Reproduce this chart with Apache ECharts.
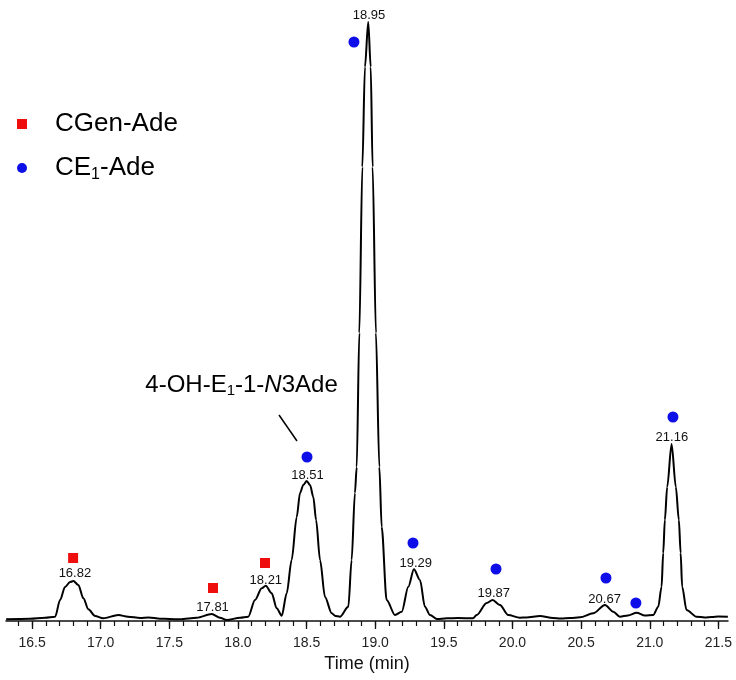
<!DOCTYPE html>
<html>
<head>
<meta charset="utf-8">
<script src="https://cdn.jsdelivr.net/npm/echarts@6/dist/echarts.min.js"></script>
<style>
  html, body { margin: 0; padding: 0; background: #fff; }
  #chart-container { width: 736px; height: 680px; }
</style>
</head>
<body>
<div id="chart-container"></div>
<script>
// chromatogram trace, time (min) and signal (arbitrary units, 0 = axis line)
const traceTime = [16.311, 16.485, 16.595, 16.668, 16.704, 16.740, 16.777, 16.801, 16.837, 16.874,
  16.910, 16.959, 17.017, 17.129, 17.199, 17.287, 17.35, 17.432, 17.5, 17.578, 17.700, 17.809, 17.869,
  17.918, 18.015, 18.075, 18.124, 18.173, 18.202, 18.246, 18.282, 18.319, 18.355, 18.391, 18.428,
  18.452, 18.476, 18.501, 18.525, 18.549, 18.569, 18.598, 18.634, 18.683, 18.71, 18.743, 18.804,
  18.828, 18.852, 18.865, 18.884, 18.906, 18.925, 18.949, 18.967, 18.981, 19.005, 19.030, 19.047,
  19.083, 19.144, 19.193, 19.241, 19.282, 19.326, 19.362, 19.399, 19.45, 19.523, 19.6, 19.712, 19.739,
  19.812, 19.855, 19.908, 19.969, 20.054, 20.1, 20.200, 20.295, 20.35, 20.42, 20.492, 20.588, 20.674,
  20.734, 20.783, 20.841, 20.904, 20.965, 21.025, 21.062, 21.086, 21.098, 21.110, 21.127, 21.159,
  21.190, 21.212, 21.225, 21.236, 21.268, 21.341, 21.4, 21.453, 21.5, 21.569];
const traceSignal = [1.7, 2.3, 3.3, 4.3, 21, 34, 39, 40, 36, 22.7,
  11.7, 5, 2.7, 6, 4.3, 3, 3.5, 2.3, 2, 1.7, 3.3, 7, 3.3,
  1, 3.3, 4.3, 21, 32.7, 35.3, 27.7, 12.7, 5.3, 27.7, 61, 104,
  128, 136, 140, 136, 124, 101, 61, 24, 7.7, 5, 4.3, 14.3,
  61, 128, 154, 288, 454, 554, 599, 554, 454, 288, 154, 94,
  21, 6, 9.3, 34.3, 51.7, 41, 14.3, 6, 2, 2.7, 3, 2.7, 6,
  18, 21, 16, 6, 3.3, 3.5, 5, 3, 2.5, 3, 3.7, 7.7, 16,
  9.3, 4.3, 5.5, 8.3, 5.5, 6, 14.3, 34.3, 68, 101, 134, 177,
  134, 101, 68, 34.3, 11, 4.3, 3.5, 4, 4.5, 4.3];

// peak retention time labels
const peakText = ["16.82", "17.81", "18.21", "18.51", "18.95", "19.29", "19.87", "20.67", "21.16"];
const peakLabelTime = [16.812, 17.815, 18.203, 18.507, 18.955, 19.295, 19.863, 20.671, 21.161];
const peakLabelY = [48, 14, 41, 146, 606, 57.7, 27.7, 22, 184];

// CGen-Ade markers (red squares)
const cgenTime = [16.799, 17.818, 18.197];
const cgenY = [63, 33, 58];

// CE1-Ade markers (blue circles)
const ce1Time = [18.845, 18.503, 19.275, 19.880, 20.681, 20.899, 21.169];
const ce1Y = [579, 164, 78, 52, 43, 18, 204];

// annotation text and leader line
const noteText = "4-OH-E{s|1}-1-{i|N}3Ade";
const notePos = [18.026, 236];
const noteLine = [[18.299, 206], [18.430, 180]];

// axis ticks
const majorTicks = [16.5, 17.0, 17.5, 18.0, 18.5, 19.0, 19.5, 20.0, 20.5, 21.0, 21.5];
const minorTicks = [];
for (let i = 164; i <= 215; i++) minorTicks.push(i / 10);

(function () {
  var dom = document.getElementById("chart-container");
  var myChart = echarts.init(dom, null, { renderer: "canvas" });

  const trace = traceTime.map((t, i) => [t, traceSignal[i]]);
  const labels = peakLabelTime.map((t, i) => [t, peakLabelY[i], peakText[i]]);
  const cgen = cgenTime.map((t, i) => [t, cgenY[i]]);
  const ce1 = ce1Time.map((t, i) => [t, ce1Y[i]]);

  const font = "'Liberation Sans', Arial, sans-serif";

  var option = {
    animation: false,
    textStyle: { fontFamily: font },
    grid: { left: 6, right: 8, top: 0, bottom: 59 },
    legend: {
      orient: "vertical",
      left: 12,
      top: 106,
      itemGap: 18,
      itemWidth: 10,
      itemHeight: 10,
      data: ["CGen-Ade", "CE1-Ade"],
      formatter: function (name) {
        return name === "CE1-Ade" ? "{g|}{t|CE}{s|1}{t|-Ade}" : "{g|}{t|CGen-Ade}";
      },
      textStyle: {
        rich: {
          g: { width: 23 },
          t: { fontSize: 26, color: "#000", fontFamily: font },
          s: { fontSize: 16, color: "#000", fontFamily: font, padding: [13, 0, 0, 0] },
        },
      },
    },
    xAxis: [
      {
        type: "value",
        min: 16.31,
        max: 21.57,
        name: "Time (min)",
        nameLocation: "middle",
        nameGap: 33,
        nameTextStyle: { fontSize: 18, color: "#111" },
        axisLine: { onZero: false, lineStyle: { color: "#111", width: 1.5 } },
        axisTick: { customValues: majorTicks, length: 8, lineStyle: { color: "#111", width: 1.3 } },
        axisLabel: {
          customValues: majorTicks,
          fontSize: 14,
          color: "#222",
          margin: 15,
          formatter: (v) => v.toFixed(1),
        },
        splitLine: { show: false },
      },
      {
        type: "value",
        min: 16.31,
        max: 21.57,
        position: "bottom",
        axisLine: { show: false, onZero: false },
        axisTick: { customValues: minorTicks, length: 5, lineStyle: { color: "#111", width: 1.2 } },
        axisLabel: { show: false },
        splitLine: { show: false },
      },
    ],
    yAxis: { type: "value", min: 0, max: 621, show: false },
    series: [
      {
        name: "trace",
        type: "line",
        data: trace,
        showSymbol: false,
        smooth: 0.3,
        smoothMonotone: "x",
        lineStyle: { color: "#000", width: 2 },
        z: 2,
      },
      {
        name: "CGen-Ade",
        type: "scatter",
        data: cgen,
        symbol: "rect",
        symbolSize: 10,
        itemStyle: { color: "#ee0e0e", opacity: 1 },
        z: 3,
      },
      {
        name: "CE1-Ade",
        type: "scatter",
        data: ce1,
        symbol: "circle",
        symbolSize: 11,
        itemStyle: { color: "#0e0ee8", opacity: 1 },
        z: 3,
      },
      {
        name: "peaks",
        type: "scatter",
        data: labels,
        symbolSize: 0,
        silent: true,
        itemStyle: { opacity: 1 },
        label: {
          show: true,
          position: "inside",
          fontSize: 13,
          color: "#111",
          formatter: (p) => p.data[2],
        },
        z: 4,
      },
      {
        name: "note",
        type: "scatter",
        data: [notePos],
        symbolSize: 0,
        silent: true,
        itemStyle: { opacity: 1 },
        label: {
          show: true,
          position: "inside",
          formatter: noteText,
          rich: {
            s: { fontSize: 15, color: "#000", fontFamily: font, padding: [12, 0, 0, 0] },
            i: { fontSize: 24, color: "#000", fontFamily: font, fontStyle: "italic" },
          },
          fontSize: 24,
          color: "#000",
        },
        markLine: {
          silent: true,
          symbol: "none",
          label: { show: false },
          lineStyle: { color: "#000", width: 1.5, type: "solid", opacity: 1 },
          data: [[{ coord: noteLine[0] }, { coord: noteLine[1] }]],
        },
        z: 4,
      },
    ],
  };

  myChart.setOption(option);
  window.addEventListener("resize", myChart.resize);
})();
</script>
</body>
</html>
